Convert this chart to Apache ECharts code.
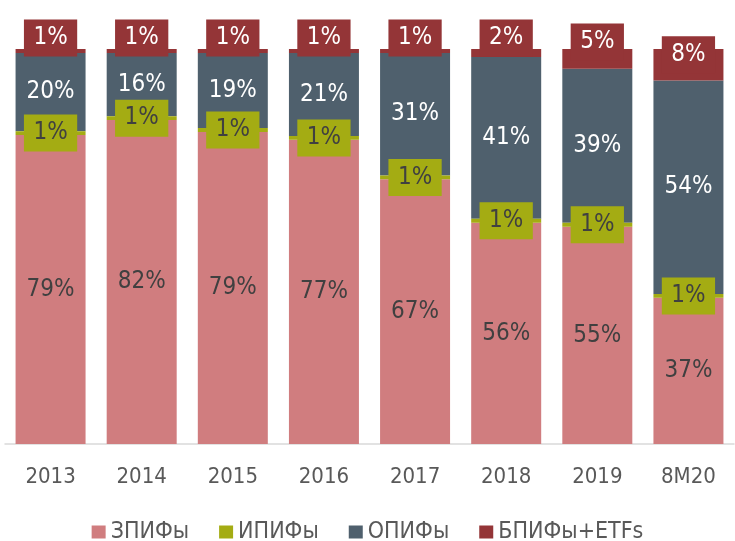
<!DOCTYPE html>
<html>
<head>
<meta charset="utf-8">
<script src="https://cdn.jsdelivr.net/npm/echarts@6/dist/echarts.min.js"></script>
<style>
html,body{margin:0;padding:0;background:#fff;}
#chart{width:735px;height:541px;}
</style>
</head>
<body>
<div id="chart"></div>
<script>
const categories = ['2013', '2014', '2015', '2016', '2017', '2018', '2019', '8M20'];
const seriesNames = ['ЗПИФы', 'ИПИФы', 'ОПИФы', 'БПИФы+ETFs'];
const zpif = [79, 82, 79, 77, 67, 56, 55, 37];
const ipif = [1, 1, 1, 1, 1, 1, 1, 1];
const opif = [20, 16, 19, 21, 31, 41, 39, 54];
const bpif = [1, 1, 1, 1, 1, 2, 5, 8];

// label vertical shift (style only) for the top series labels
const bpifLabelShift = [-13, -13, -13, -13, -13, -15, -17, -10];

const FONT = "'DejaVu Sans Condensed','DejaVu Sans',sans-serif";
const colors = ['#D07D7F', '#A4AC13', '#4F606D', '#943537'];
const all = [zpif, ipif, opif, bpif];
const totals = categories.map((c, i) => all.reduce((s, a) => s + a[i], 0));

function shares(arr) {
  return arr.map((v, i) => ({ value: v / totals[i] * 100, raw: v }));
}

const fmt = p => p.data.raw + '%';

const boxLabel = (bg, fg) => ({
  show: true,
  position: 'inside',
  formatter: fmt,
  color: fg,
  fontFamily: FONT,
  fontSize: 24,
  lineHeight: 24,
  backgroundColor: bg,
  padding: [7, 9.5, 6, 9.5]
});

const chart = echarts.init(document.getElementById('chart'), null, { renderer: 'canvas' });
chart.setOption({
  animation: false,
  color: colors,
  grid: { left: 5, right: 1, top: 49, bottom: 97, containLabel: false },
  legend: {
    data: seriesNames,
    top: 514,
    left: 'center',
    itemWidth: 14,
    itemHeight: 13,
    itemGap: 30,
    icon: 'rect',
    textStyle: { color: '#595959', fontFamily: FONT, fontSize: 23, lineHeight: 26 }
  },
  xAxis: {
    type: 'category',
    data: categories,
    axisLine: { lineStyle: { color: '#D9D9D9', width: 1.5 } },
    axisTick: { show: false },
    axisLabel: { color: '#595959', fontFamily: FONT, fontSize: 22, margin: 22 }
  },
  yAxis: {
    type: 'value',
    min: 0,
    max: 100,
    show: false,
    splitLine: { show: false }
  },
  series: [
    {
      name: seriesNames[0], type: 'bar', stack: 'total', barWidth: 70,
      data: shares(zpif),
      label: { show: true, position: 'inside', formatter: fmt, color: '#404040', fontFamily: FONT, fontSize: 24 }
    },
    {
      name: seriesNames[1], type: 'bar', stack: 'total', barWidth: 70,
      data: shares(ipif),
      label: boxLabel('#A4AC13', '#404040'),
      z: 3
    },
    {
      name: seriesNames[2], type: 'bar', stack: 'total', barWidth: 70,
      data: shares(opif),
      label: { show: true, position: 'inside', formatter: fmt, color: '#FFFFFF', fontFamily: FONT, fontSize: 24 }
    },
    {
      name: seriesNames[3], type: 'bar', stack: 'total', barWidth: 70,
      data: shares(bpif).map((d, i) => Object.assign(d, { label: { offset: [0, bpifLabelShift[i]] } })),
      label: boxLabel('#943537', '#FFFFFF'),
      z: 4
    }
  ]
});
</script>
</body>
</html>
